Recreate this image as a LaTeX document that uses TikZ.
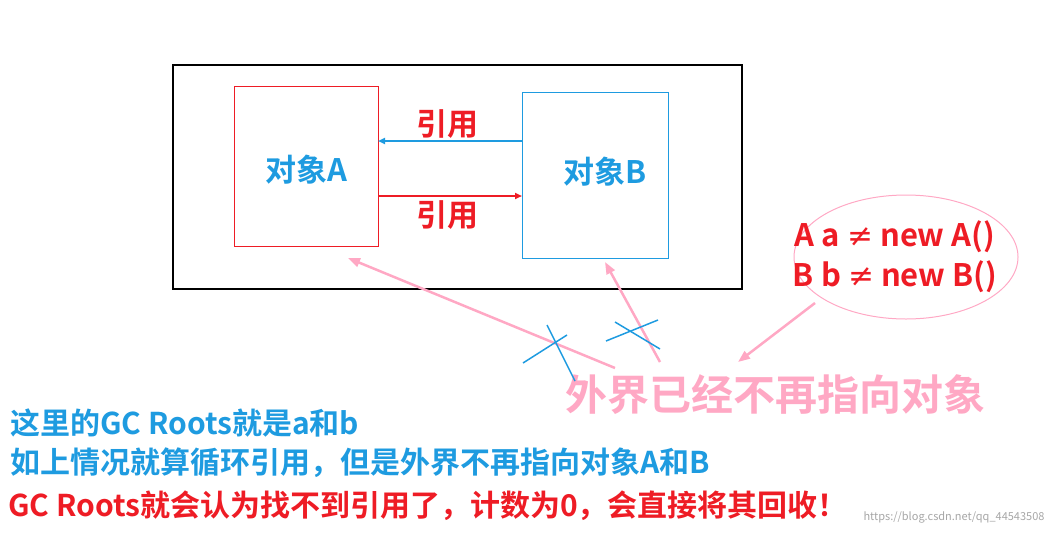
\documentclass[tikz,border=0pt]{standalone}
\usepackage{fontspec}
\setmainfont{Noto Sans CJK SC}
\newfontfamily\cjkb{Noto Sans CJK SC Bold}
\newfontfamily\djvs{DejaVu Sans}
\usetikzlibrary{arrows.meta}
\definecolor{cblue}{HTML}{1E9BE0}
\definecolor{cred}{HTML}{EE1C25}
\definecolor{cpink}{HTML}{FFA8C4}
\tikzset{x=1pt,y=-1pt,
 lbl/.style={font=\cjkb\fontsize{31}{33}\selectfont,inner sep=0},
 parr/.style={cpink,line width=2.5pt,-{Triangle[length=12pt,width=9pt]}},
 crs/.style={cblue,line width=1.5pt},
 bot/.style={font=\cjkb\fontsize{30}{32}\selectfont,anchor=west,inner sep=0}}
\begin{document}
\begin{tikzpicture}
\useasboundingbox (0,0) rectangle (1056,536);
\draw[line width=2pt] (173,65) rectangle (742,289);
\draw[cred,line width=1pt] (234,86) rectangle (378,246);
\draw[cblue,line width=1pt] (522,92) rectangle (668,258);
\node[lbl,text=cblue] (A) at (306,170) {对象A};
\node[lbl,text=cblue] (B) at (605,172) {对象B};
\coordinate (Ar1) at (378,141); \coordinate (Br1) at (522,141);
\coordinate (Ar2) at (378,196); \coordinate (Br2) at (522,196);
\draw[cblue,line width=2pt,-{Triangle[length=7pt,width=6pt]}] (Br1) -- (Ar1);
\draw[cred,line width=2pt,-{Triangle[length=7pt,width=6pt]}] (Ar2) -- (Br2);
\node[lbl,text=cred] (l1) at (447,124) {引用};
\node[lbl,text=cred] (l2) at (447,215) {引用};
\draw[cpink,line width=1pt] (906,257) ellipse (112 and 62);
\node[lbl,text=cred,align=center,font=\cjkb\fontsize{31}{40}\selectfont] (E) at (895,257) {A a {\djvs ≠} new A()\\B b {\djvs ≠} new B()};
\node[font=\cjkb\fontsize{42}{44}\selectfont,text=cpink,inner sep=0] (T) at (775,395) {外界已经不再指向对象};
\coordinate (ta) at (348,258); \coordinate (tb) at (605,262);
\coordinate (fa) at (615,368); \coordinate (fb) at (660,362);
\coordinate (es) at (815,303); \coordinate (ee) at (738,362);
\draw[parr] (fa) -- (ta);
\draw[parr] (fb) -- (tb);
\draw[parr] (es) -- (ee);
\draw[crs] (523,363) -- (567,335); \draw[crs] (547,325) -- (575,381);
\draw[crs] (606,341) -- (658,320); \draw[crs] (615,322) -- (660,349);
\node[bot,text=cblue] (b1) at (10,423) {这里的GC Roots就是a和b};
\node[bot,text=cblue] (b2) at (10,463) {如上情况就算循环引用，但是外界不再指向对象A和B};
\node[bot,text=cred] (b3) at (8,506) {GC Roots就会认为找不到引用了，计数为0，会直接将其回收！};
\node[font=\fontsize{11}{12}\selectfont,text=gray!70,anchor=east] (w) at (1048,517) {https://blog.csdn.net/qq\_44543508};
\end{tikzpicture}
\end{document}
